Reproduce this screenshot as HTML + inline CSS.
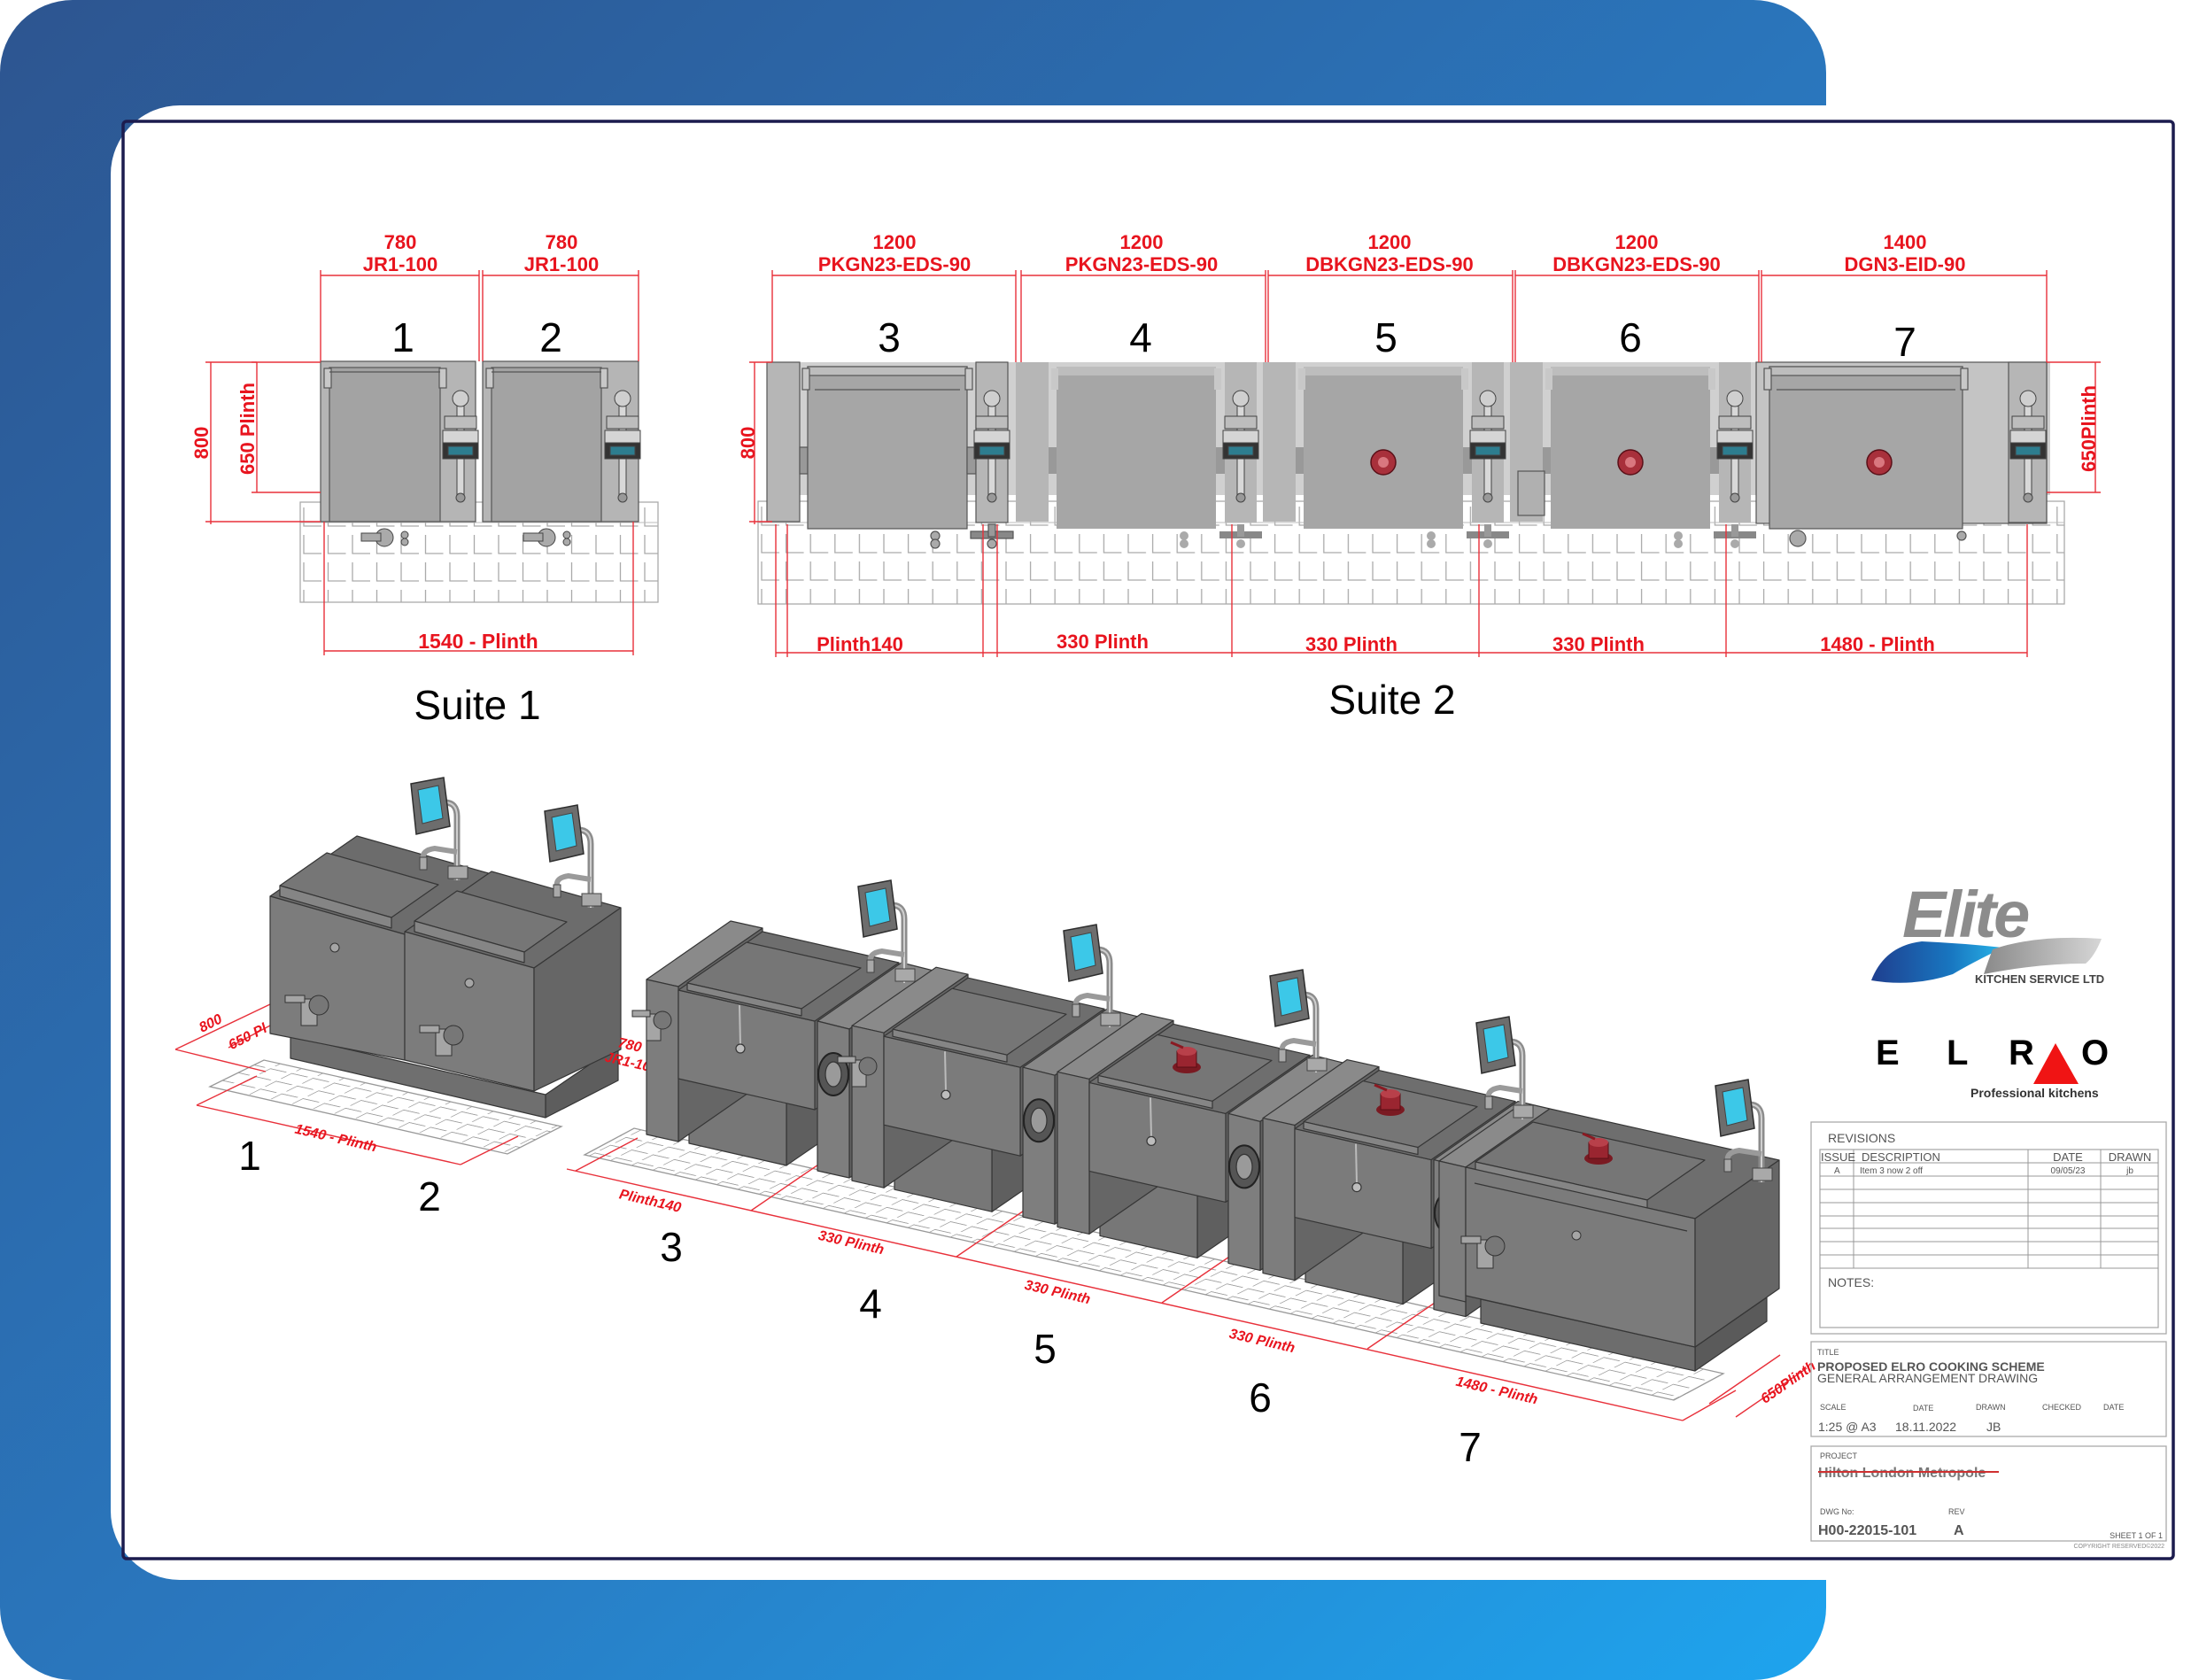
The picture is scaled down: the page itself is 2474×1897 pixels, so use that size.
<!DOCTYPE html>
<html><head><meta charset="utf-8"><style>
html,body{margin:0;padding:0;background:#fff;}
svg{display:block;font-family:"Liberation Sans",sans-serif;}
</style></head><body>
<svg width="2474" height="1897" viewBox="0 0 2474 1897" xmlns="http://www.w3.org/2000/svg">
<defs>
<linearGradient id="bg" x1="0" y1="0" x2="1" y2="1">
<stop offset="0" stop-color="#2d5590"/><stop offset="0.55" stop-color="#2a78bf"/><stop offset="1" stop-color="#1ea4ee"/>
</linearGradient>
<linearGradient id="sw1" x1="0" y1="0" x2="1" y2="0">
<stop offset="0" stop-color="#1f3f8f"/><stop offset="0.6" stop-color="#1876c0"/><stop offset="1" stop-color="#29b4e8"/>
</linearGradient>
<linearGradient id="sw2" x1="0" y1="0" x2="1" y2="0">
<stop offset="0" stop-color="#8a8a8a"/><stop offset="1" stop-color="#d6d6d6"/>
</linearGradient>
<pattern id="eg" x="339" y="567" width="27.5" height="31" patternUnits="userSpaceOnUse">
<path d="M4 6 V27 H24" stroke="#aaa" stroke-width="1.3" fill="none"/>
</pattern>
<pattern id="eg2" x="856" y="566" width="27.6" height="31" patternUnits="userSpaceOnUse">
<path d="M4 6 V27 H24" stroke="#aaa" stroke-width="1.3" fill="none"/>
</pattern>
<pattern id="ig" width="24" height="16" patternUnits="userSpaceOnUse" patternTransform="matrix(1,0.225,1.1,-0.55,0,0)">
<path d="M3 2 V13 H21" stroke="#9a9a9a" stroke-width="1.1" fill="none"/>
</pattern>
<g id="mon">
<path d="M16,-6 Q30,-6 30,10 L30,82" stroke="#8c8c8c" stroke-width="7" fill="none"/>
<path d="M16,-6 Q30,-6 30,10 L30,82" stroke="#cfcfcf" stroke-width="2" fill="none"/>
<polygon points="-22,-27 15,-34 22,21 -16,30" fill="#6d6d6d" stroke="#2e2e2e" stroke-width="1.5"/>
<polygon points="-14,-20 9,-25 14,12 -9,18" fill="#3cc8e8" stroke="#444" stroke-width="1"/>
<path d="M-8,58 Q-10,48 5,46 L30,50" stroke="#9a9a9a" stroke-width="6" fill="none"/>
<rect x="20" y="66" width="22" height="14" fill="#a9a9a9" stroke="#444"/>
<rect x="-12" y="56" width="8" height="14" fill="#a9a9a9" stroke="#444"/>
</g>
<g id="tp" stroke="#363636" stroke-width="1.2" stroke-linejoin="round">
<polygon points="888,1226 955,1180 955,1270 888,1316" fill="#5f5f5f"/>
<polygon points="778,1201 888,1226 888,1316 778,1291" fill="#777"/>
<polygon points="730,1106 766,1114 861,1048 825,1040" fill="#8a8a8a"/>
<polygon points="766,1114 861,1048 861,1223 766,1289" fill="#666"/>
<polygon points="730,1106 766,1114 766,1289 730,1281" fill="#7d7d7d"/>
<polygon points="920,1153 1015,1087 1015,1187 920,1253" fill="#646464"/>
<polygon points="766,1118 920,1153 920,1253 766,1218" fill="#7b7b7b"/>
<polygon points="766,1118 920,1153 1015,1087 861,1052" fill="#6e6e6e"/>
<polygon points="776,1110 905,1139 972,1093 843,1064" fill="#767676"/>
<polygon points="776,1110 905,1139 905,1147 776,1118" fill="#858585"/>
<line x1="835" y1="1135" x2="836" y2="1180" stroke="#bbb" stroke-width="2"/>
<circle cx="836" cy="1184" r="5" fill="#bdbdbd"/>
<polygon points="923,1153 959,1162 1054,1096 1018,1087" fill="#888"/>
<polygon points="959,1162 1054,1096 1054,1264 959,1330" fill="#626262"/>
<polygon points="923,1153 959,1162 959,1330 923,1322" fill="#7e7e7e"/>
<ellipse cx="941" cy="1213" rx="17" ry="24" fill="#555" stroke="#222" stroke-width="2"/>
<ellipse cx="941" cy="1213" rx="9" ry="14" fill="#9a9a9a" stroke="#333"/>
</g>
<g id="knob">
<ellipse cx="0" cy="8" rx="16" ry="7" fill="#7a1a22"/>
<rect x="-11" y="-10" width="22" height="18" fill="#9a2530" stroke="#5a0f15"/>
<ellipse cx="0" cy="-10" rx="11" ry="5" fill="#b8404a"/>
<line x1="-4" y1="-14" x2="-18" y2="-20" stroke="#8a1a22" stroke-width="3"/>
</g>
<g id="ectrl" stroke="#444" stroke-width="1">
<rect x="-4" y="0" width="8" height="110" fill="#d8d8d8"/>
<circle cx="0" cy="0" r="9" fill="#cfcfcf"/>
<rect x="-18" y="20" width="36" height="14" fill="#bdbdbd"/>
<rect x="-20" y="36" width="40" height="14" fill="#d5d5d5"/>
<rect x="-20" y="50" width="40" height="18" fill="#333"/>
<rect x="-14" y="54" width="28" height="10" fill="#2d7d8f"/>
<circle cx="0" cy="112" r="5" fill="#999"/>
</g>
</defs>

<rect x="0" y="0" width="2062" height="1897" rx="82" fill="url(#bg)"/>
<rect x="125" y="119" width="2420" height="1665" rx="78" fill="#fff"/>
<rect x="2062" y="0" width="412" height="119" fill="#fff"/>
<rect x="139" y="137" width="2315" height="1623" fill="none" stroke="#1c1c4e" stroke-width="3.5" rx="4"/>

<rect x="339" y="567" width="404" height="113" fill="url(#eg)" stroke="#aaa" stroke-width="1.3"/>
<line x1="339" y1="590" x2="743" y2="590" stroke="#bbb"/>
<g stroke="#555" stroke-width="1.2">
<rect x="362" y="408" width="175" height="181" fill="#b5b5b5"/>
<rect x="372" y="415" width="125" height="174" fill="#a3a3a3"/>
<rect x="545" y="408" width="176" height="181" fill="#b5b5b5"/>
<rect x="555" y="415" width="124" height="174" fill="#a3a3a3"/>
<rect x="366" y="416" width="8" height="22" fill="#c8c8c8"/><rect x="496" y="416" width="8" height="22" fill="#c8c8c8"/>
<rect x="549" y="416" width="8" height="22" fill="#c8c8c8"/><rect x="678" y="416" width="8" height="22" fill="#c8c8c8"/>
<line x1="372" y1="420" x2="497" y2="420"/><line x1="555" y1="420" x2="679" y2="420"/>
</g>
<use href="#ectrl" x="520" y="450"/>
<use href="#ectrl" x="703" y="450"/>
<g fill="#aaa" stroke="#444">
<circle cx="434" cy="607" r="10"/><rect x="408" y="602" width="22" height="9"/><circle cx="457" cy="604" r="4"/><circle cx="457" cy="612" r="4"/>
<circle cx="617" cy="607" r="10"/><rect x="591" y="602" width="22" height="9"/><circle cx="640" cy="604" r="4"/><circle cx="640" cy="612" r="4"/>
</g>

<rect x="856" y="566" width="1475" height="116" fill="url(#eg2)" stroke="#aaa" stroke-width="1.3"/>
<line x1="856" y1="590" x2="2331" y2="590" stroke="#bbb"/>
<rect x="870" y="409" width="1445" height="150" fill="#d0d0d0"/>
<g stroke="#555" stroke-width="1.2">
<g id="eu3">
<rect x="866" y="409" width="37" height="180" fill="#b6b6b6"/>
<rect x="903" y="505" width="9" height="30" fill="#999"/>
<rect x="912" y="414" width="180" height="183" fill="#a6a6a6"/>
<rect x="912" y="414" width="180" height="10" fill="#bdbdbd"/>
<line x1="920" y1="440" x2="1084" y2="440"/>
<rect x="906" y="416" width="8" height="24" fill="#c8c8c8"/><rect x="1090" y="416" width="8" height="24" fill="#c8c8c8"/>
<rect x="1092" y="505" width="10" height="30" fill="#999"/>
<rect x="1102" y="409" width="36" height="181" fill="#b6b6b6"/>
<rect x="1096" y="600" width="48" height="8" fill="#888"/>
<rect x="1116" y="592" width="8" height="14" fill="#999"/>
<circle cx="1120" cy="614" r="5" fill="#aaa"/>
<circle cx="1056" cy="605" r="5" fill="#aaa"/><circle cx="1056" cy="614" r="5" fill="#aaa"/>
</g>
</g>
<use href="#eu3" x="281" y="0"/>
<use href="#eu3" x="560" y="0"/>
<use href="#eu3" x="839" y="0"/>
<use href="#ectrl" x="1120" y="450"/>
<use href="#ectrl" x="1401" y="450"/>
<use href="#ectrl" x="1680" y="450"/>
<use href="#ectrl" x="1959" y="450"/>
<g stroke="#555" stroke-width="1.2">
<rect x="1714" y="532" width="30" height="50" fill="#b0b0b0"/>
<rect x="1983" y="409" width="328" height="182" fill="#c4c4c4"/>
<rect x="1998" y="414" width="218" height="183" fill="#a6a6a6"/>
<rect x="1998" y="414" width="218" height="10" fill="#bdbdbd"/>
<line x1="2006" y1="440" x2="2208" y2="440"/>
<rect x="1992" y="416" width="8" height="24" fill="#c8c8c8"/><rect x="2214" y="416" width="8" height="24" fill="#c8c8c8"/>
<rect x="2268" y="409" width="43" height="181" fill="#b6b6b6"/>
<circle cx="2030" cy="608" r="9" fill="#aaa"/><circle cx="2215" cy="605" r="5" fill="#aaa"/>
</g>
<use href="#ectrl" x="2290" y="450"/>
<g fill="#a8303b" stroke="#5a1018" stroke-width="1.5">
<circle cx="1562" cy="522" r="14"/><circle cx="1841" cy="522" r="14"/><circle cx="2122" cy="522" r="14"/>
</g>
<g fill="#d9777f"><circle cx="1562" cy="522" r="6"/><circle cx="1841" cy="522" r="6"/><circle cx="2122" cy="522" r="6"/></g>

<g stroke="#e8303a" stroke-width="1.4" fill="none">
<line x1="362" y1="311" x2="541" y2="311"/><line x1="545" y1="311" x2="721" y2="311"/>
<line x1="362" y1="305" x2="362" y2="408"/><line x1="541" y1="305" x2="541" y2="408"/>
<line x1="545" y1="305" x2="545" y2="408"/><line x1="721" y1="305" x2="721" y2="408"/>
<line x1="232" y1="409" x2="362" y2="409"/><line x1="238" y1="409" x2="238" y2="592"/><line x1="232" y1="589" x2="362" y2="589"/>
<line x1="284" y1="409" x2="290" y2="409"/><line x1="290" y1="409" x2="290" y2="556"/><line x1="284" y1="556" x2="362" y2="556"/>
<line x1="366" y1="589" x2="366" y2="740"/><line x1="715" y1="589" x2="715" y2="740"/>
<line x1="366" y1="735" x2="715" y2="735"/>
<line x1="872" y1="311" x2="1147" y2="311"/><line x1="1153" y1="311" x2="1429" y2="311"/>
<line x1="1432" y1="311" x2="1708" y2="311"/><line x1="1711" y1="311" x2="1986" y2="311"/>
<line x1="1989" y1="311" x2="2311" y2="311"/>
<line x1="872" y1="305" x2="872" y2="409"/><line x1="1147" y1="305" x2="1147" y2="409"/>
<line x1="1153" y1="305" x2="1153" y2="409"/><line x1="1429" y1="305" x2="1429" y2="409"/>
<line x1="1432" y1="305" x2="1432" y2="409"/><line x1="1708" y1="305" x2="1708" y2="409"/>
<line x1="1711" y1="305" x2="1711" y2="409"/><line x1="1986" y1="305" x2="1986" y2="409"/>
<line x1="1989" y1="305" x2="1989" y2="409"/><line x1="2311" y1="305" x2="2311" y2="409"/>
<line x1="846" y1="409" x2="872" y2="409"/><line x1="852" y1="409" x2="852" y2="592"/><line x1="846" y1="589" x2="872" y2="589"/>
<line x1="2311" y1="409" x2="2372" y2="409"/><line x1="2366" y1="409" x2="2366" y2="556"/><line x1="2311" y1="556" x2="2372" y2="556"/>
<line x1="876" y1="737" x2="2289" y2="737"/>
<line x1="876" y1="592" x2="876" y2="742"/><line x1="1110" y1="592" x2="1110" y2="742"/>
<line x1="1391" y1="592" x2="1391" y2="742"/><line x1="1670" y1="592" x2="1670" y2="742"/>
<line x1="1949" y1="592" x2="1949" y2="742"/><line x1="2289" y1="592" x2="2289" y2="742"/>
<line x1="889" y1="592" x2="889" y2="742"/><line x1="1126" y1="592" x2="1126" y2="742"/>
</g>
<g fill="#e8141e" font-weight="bold" font-size="22" text-anchor="middle">
<text x="452" y="281">780</text><text x="452" y="306">JR1-100</text>
<text x="634" y="281">780</text><text x="634" y="306">JR1-100</text>
<text x="1010" y="281">1200</text><text x="1010" y="306">PKGN23-EDS-90</text>
<text x="1289" y="281">1200</text><text x="1289" y="306">PKGN23-EDS-90</text>
<text x="1569" y="281">1200</text><text x="1569" y="306">DBKGN23-EDS-90</text>
<text x="1848" y="281">1200</text><text x="1848" y="306">DBKGN23-EDS-90</text>
<text x="2151" y="281">1400</text><text x="2151" y="306">DGN3-EID-90</text>
<text x="540" y="732" font-size="23">1540 - Plinth</text>
<text x="971" y="735">Plinth140</text>
<text x="1245" y="732">330 Plinth</text>
<text x="1526" y="735">330 Plinth</text>
<text x="1805" y="735">330 Plinth</text>
<text x="2120" y="735">1480 - Plinth</text>
<text x="0" y="0" transform="translate(235,500) rotate(-90)">800</text>
<text x="0" y="0" transform="translate(287,484) rotate(-90)">650 Plinth</text>
<text x="0" y="0" transform="translate(852,500) rotate(-90)">800</text>
<text x="0" y="0" transform="translate(2366,484) rotate(-90)">650Plinth</text>
</g>
<g fill="#000" font-size="46" text-anchor="middle">
<text x="455" y="397">1</text><text x="622" y="397">2</text>
<text x="1004" y="397">3</text><text x="1288" y="397">4</text><text x="1565" y="397">5</text>
<text x="1841" y="397">6</text><text x="2151" y="402">7</text>
<text x="539" y="812">Suite 1</text><text x="1572" y="806">Suite 2</text>
</g>

<polygon points="237,1227 298,1197 634,1272 573,1303" fill="url(#ig)" stroke="#999" stroke-width="1.3"/>
<g stroke="#e8303a" stroke-width="1.4" fill="none">
<line x1="222" y1="1248" x2="520" y2="1315"/>
<line x1="222" y1="1248" x2="290" y2="1215"/><line x1="520" y1="1315" x2="585" y2="1283"/>
<line x1="198" y1="1185" x2="305" y2="1134"/><line x1="198" y1="1185" x2="300" y2="1210"/>
<line x1="258" y1="1183" x2="305" y2="1158"/>
</g>
<g fill="#e8141e" font-weight="bold" font-style="italic" font-size="16" text-anchor="middle">
<text transform="translate(378,1290) rotate(13)">1540 - Plinth</text>
<text transform="translate(240,1160) rotate(-27)">800</text>
<text transform="translate(282,1175) rotate(-27)">650 Pl</text>
</g>
<g stroke="#363636" stroke-width="1.2" stroke-linejoin="round">
<polygon points="616,1236 698,1180 698,1220 616,1262" fill="#5d5d5d"/>
<polygon points="328,1170 616,1236 616,1262 328,1195" fill="#6f6f6f"/>
<polygon points="305,1012 457,1055 555,987 403,944" fill="#6c6c6c"/>
<polygon points="457,1052 603,1093 701,1025 555,984" fill="#6c6c6c"/>
<polygon points="316,1000 442,1036 495,999 369,963" fill="#767676"/>
<polygon points="316,1000 442,1036 442,1048 316,1012" fill="#858585"/>
<polygon points="468,1040 592,1075 640,1041 516,1006" fill="#767676"/>
<polygon points="468,1040 592,1075 592,1087 468,1052" fill="#858585"/>
<polygon points="305,1012 457,1055 457,1197 305,1167" fill="#7c7c7c"/>
<polygon points="457,1052 603,1093 603,1232 457,1197" fill="#7c7c7c"/>
<polygon points="603,1093 701,1025 701,1185 603,1232" fill="#666"/>
</g>
<g fill="#a5a5a5" stroke="#333">
<rect x="340" y="1128" width="18" height="30"/><circle cx="360" cy="1135" r="11" fill="#777"/><rect x="322" y="1124" width="22" height="8"/>
<rect x="492" y="1162" width="18" height="30"/><circle cx="512" cy="1169" r="11" fill="#777"/><rect x="474" y="1158" width="22" height="8"/>
<circle cx="378" cy="1070" r="5"/><circle cx="530" cy="1110" r="5"/>
</g>
<use href="#mon" x="486" y="912"/>
<use href="#mon" x="637" y="943"/>

<polygon points="660,1304 716,1274 1946,1551 1890,1581" fill="url(#ig)" stroke="#999" stroke-width="1.3"/>
<g stroke="#e8303a" stroke-width="1.4" fill="none">
<line x1="640" y1="1320" x2="1900" y2="1604"/>
<line x1="650" y1="1322" x2="720" y2="1285"/>
<line x1="848" y1="1367" x2="990" y2="1270"/>
<line x1="1080" y1="1419" x2="1222" y2="1322"/>
<line x1="1312" y1="1471" x2="1454" y2="1374"/>
<line x1="1544" y1="1523" x2="1686" y2="1426"/>
<line x1="1900" y1="1604" x2="1960" y2="1570"/>
<line x1="1930" y1="1585" x2="2010" y2="1530"/><line x1="1960" y1="1600" x2="2040" y2="1545"/>
</g>
<g fill="#e8141e" font-weight="bold" font-style="italic" font-size="16" text-anchor="middle">
<text transform="translate(733,1361) rotate(13)">Plinth140</text>
<text transform="translate(960,1408) rotate(13)">330 Plinth</text>
<text transform="translate(1193,1464) rotate(13)">330 Plinth</text>
<text transform="translate(1424,1519) rotate(13)">330 Plinth</text>
<text transform="translate(1689,1575) rotate(13)">1480 - Plinth</text>
<text transform="translate(2022,1565) rotate(-35)">650Plinth</text>
<text transform="translate(710,1185) rotate(13)">780</text>
<text transform="translate(712,1205) rotate(13)">JR1-100</text>
</g>
<use href="#tp"/>
<use href="#tp" x="232" y="52.2"/>
<use href="#tp" x="464" y="104.4"/>
<use href="#tp" x="696" y="156.6"/>
<g stroke="#363636" stroke-width="1.2" stroke-linejoin="round">
<polygon points="1914,1521 1995,1465 1995,1492 1914,1548" fill="#5a5a5a"/>
<polygon points="1672,1467 1914,1521 1914,1548 1672,1494" fill="#6d6d6d"/>
<polygon points="1625,1311 1655,1318 1750,1252 1720,1245" fill="#8a8a8a"/>
<polygon points="1625,1311 1655,1318 1655,1470 1625,1463" fill="#7d7d7d"/>
<polygon points="1655,1318 1914,1376 2009,1310 1750,1252" fill="#6e6e6e"/>
<polygon points="1666,1312 1860,1355 1925,1310 1731,1267" fill="#767676"/>
<polygon points="1666,1312 1860,1355 1860,1364 1666,1321" fill="#858585"/>
<polygon points="1655,1318 1914,1376 1914,1521 1655,1463" fill="#7b7b7b"/>
<polygon points="1914,1376 2009,1310 2009,1455 1914,1521" fill="#666"/>
<line x1="1665" y1="1336" x2="1905" y2="1390"/>
</g>
<g fill="#a5a5a5" stroke="#333">
<rect x="730" y="1145" width="16" height="30"/><circle cx="748" cy="1152" r="10" fill="#777"/><rect x="714" y="1141" width="20" height="7"/>
<rect x="962" y="1197" width="16" height="30"/><circle cx="980" cy="1204" r="10" fill="#777"/><rect x="946" y="1193" width="20" height="7"/>
<rect x="1668" y="1400" width="18" height="32"/><circle cx="1688" cy="1407" r="11" fill="#777"/><rect x="1650" y="1396" width="22" height="8"/>
<circle cx="1780" cy="1395" r="5"/>
</g>
<use href="#knob" x="1340" y="1197"/>
<use href="#knob" x="1570" y="1245"/>
<use href="#knob" x="1805" y="1300"/>
<use href="#mon" x="991" y="1028"/>
<use href="#mon" x="1223" y="1078"/>
<use href="#mon" x="1456" y="1129"/>
<use href="#mon" x="1689" y="1182"/>
<use href="#mon" x="1959" y="1253"/>
<g fill="#000" font-size="46" text-anchor="middle">
<text x="282" y="1321">1</text><text x="485" y="1367">2</text><text x="758" y="1424">3</text>
<text x="983" y="1488">4</text><text x="1180" y="1539">5</text><text x="1423" y="1594">6</text><text x="1660" y="1650">7</text>
</g>

<text x="2148" y="1058" font-size="74" font-weight="bold" font-style="italic" fill="#8c8c8c" letter-spacing="-3">Elite</text>
<path d="M2113,1107 Q2128,1068 2170,1063 Q2215,1065 2262,1070 Q2225,1088 2205,1100 Q2160,1115 2113,1107 Z" fill="url(#sw1)"/>
<path d="M2250,1072 Q2300,1055 2373,1060 Q2365,1080 2355,1088 Q2300,1088 2240,1100 Q2245,1085 2250,1072 Z" fill="url(#sw2)"/>
<text x="2230" y="1110" font-size="13" font-weight="bold" fill="#444">KITCHEN SERVICE LTD</text>
<g font-size="40" font-weight="bold" fill="#000">
<text x="2118" y="1202">E</text><text x="2198" y="1202">L</text><text x="2268" y="1202">R</text><text x="2350" y="1202">O</text>
</g>
<polygon points="2296,1224 2347,1224 2321,1178" fill="#f01414"/>
<text x="2225" y="1239" font-size="14" font-weight="bold" fill="#333">Professional kitchens</text>

<g fill="none" stroke="#aaa" stroke-width="1.3">
<rect x="2045" y="1267" width="401" height="239"/>
<rect x="2055" y="1298" width="382" height="201"/>
<rect x="2045" y="1515" width="401" height="107"/>
<rect x="2045" y="1633" width="401" height="107"/>
</g>
<g stroke="#999" stroke-width="1">
<line x1="2055" y1="1313" x2="2437" y2="1313"/><line x1="2055" y1="1328" x2="2437" y2="1328"/>
<line x1="2055" y1="1343" x2="2437" y2="1343"/><line x1="2055" y1="1358" x2="2437" y2="1358"/>
<line x1="2055" y1="1373" x2="2437" y2="1373"/><line x1="2055" y1="1387" x2="2437" y2="1387"/>
<line x1="2055" y1="1402" x2="2437" y2="1402"/><line x1="2055" y1="1417" x2="2437" y2="1417"/>
<line x1="2055" y1="1432" x2="2437" y2="1432"/>
<line x1="2093" y1="1298" x2="2093" y2="1432"/><line x1="2290" y1="1298" x2="2290" y2="1432"/><line x1="2372" y1="1298" x2="2372" y2="1432"/>
</g>
<g fill="#555">
<text x="2064" y="1290" font-size="14">REVISIONS</text>
<text x="2056" y="1311" font-size="13">ISSUE</text>
<text x="2102" y="1311" font-size="13">DESCRIPTION</text>
<text x="2335" y="1311" font-size="13" text-anchor="middle">DATE</text>
<text x="2405" y="1311" font-size="13" text-anchor="middle">DRAWN</text>
<text x="2071" y="1325" font-size="10">A</text>
<text x="2100" y="1325" font-size="10">Item 3 now 2 off</text>
<text x="2335" y="1325" font-size="10" text-anchor="middle">09/05/23</text>
<text x="2405" y="1325" font-size="10" text-anchor="middle">jb</text>
<text x="2064" y="1453" font-size="14">NOTES:</text>
<text x="2052" y="1530" font-size="9">TITLE</text>
<text x="2052" y="1548" font-size="14" font-weight="bold">PROPOSED ELRO COOKING SCHEME</text>
<text x="2052" y="1561" font-size="14">GENERAL ARRANGEMENT DRAWING</text>
<text x="2055" y="1592" font-size="9">SCALE</text>
<text x="2160" y="1593" font-size="9">DATE</text>
<text x="2231" y="1592" font-size="9">DRAWN</text>
<text x="2306" y="1592" font-size="9">CHECKED</text>
<text x="2375" y="1592" font-size="9">DATE</text>
<text x="2053" y="1616" font-size="14">1:25 @ A3</text>
<text x="2140" y="1616" font-size="14">18.11.2022</text>
<text x="2243" y="1616" font-size="14">JB</text>
<text x="2055" y="1647" font-size="9">PROJECT</text>
<text x="2053" y="1668" font-size="16" font-weight="bold" fill="#777">Hilton London Metropole</text>
<text x="2055" y="1710" font-size="9">DWG No:</text>
<text x="2200" y="1710" font-size="9">REV</text>
<text x="2053" y="1733" font-size="16" font-weight="bold">H00-22015-101</text>
<text x="2206" y="1733" font-size="16" font-weight="bold">A</text>
<text x="2442" y="1737" font-size="9" text-anchor="end">SHEET 1 OF 1</text>
<text x="2444" y="1748" font-size="7" text-anchor="end" fill="#888">COPYRIGHT RESERVED©2022</text>
</g>
<line x1="2053" y1="1662" x2="2257" y2="1662" stroke="#d03030" stroke-width="2"/>
</svg>
</body></html>
